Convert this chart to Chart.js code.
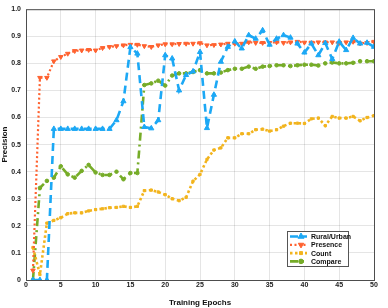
<!DOCTYPE html>
<html>
<head>
<meta charset="utf-8">
<script src="https://cdn.jsdelivr.net/npm/chart.js@4.4.0/dist/chart.umd.min.js"></script>
<style>
  body { margin: 0; background: #fff; }
  #wrap { width: 388px; height: 308px; }
</style>
</head>
<body>
<div id="wrap"><canvas id="myChart" width="388" height="308"></canvas></div>
<script>
var epochs = [...Array(50).keys()].map(function(i){ return i + 1; });

var ruralUrban = [0, 0, 0, 0.558, 0.558, 0.558, 0.558, 0.558, 0.558, 0.558,
    0.558, 0.558, 0.59, 0.66, 0.86, 0.836, 0.565, 0.56, 0.59, 0.83,
    0.818, 0.70, 0.757, 0.77, 0.842, 0.561, 0.684, 0.806, 0.861, 0.881,
    0.855, 0.904, 0.891, 0.922, 0.869, 0.891, 0.904, 0.895, 0.873, 0.84,
    0.873, 0.83, 0.875, 0.816, 0.88, 0.849, 0.894, 0.873, 0.876, 0.861];

var presence = [0.035, 0.747, 0.747, 0.808, 0.824, 0.836, 0.846, 0.848, 0.85, 0.848,
    0.857, 0.861, 0.864, 0.867, 0.869, 0.869, 0.864, 0.861, 0.867, 0.871,
    0.871, 0.872, 0.873, 0.873, 0.875, 0.867, 0.868, 0.87, 0.873, 0.873,
    0.873, 0.878, 0.876, 0.876, 0.876, 0.878, 0.876, 0.878, 0.88, 0.877,
    0.877, 0.878, 0.878, 0.878, 0.876, 0.878, 0.88, 0.874, 0.876, 0.88];

var count = [0.12, 0.02, 0.21, 0.22, 0.23, 0.245, 0.248, 0.248, 0.255, 0.26,
    0.263, 0.267, 0.268, 0.272, 0.268, 0.272, 0.33, 0.332, 0.325, 0.315,
    0.3, 0.293, 0.305, 0.365, 0.39, 0.445, 0.48, 0.488, 0.525, 0.525,
    0.54, 0.54, 0.555, 0.557, 0.55, 0.555, 0.568, 0.579, 0.579, 0.578,
    0.595, 0.598, 0.57, 0.604, 0.598, 0.598, 0.604, 0.588, 0.6, 0.607];

var compare = [0, 0.34, 0.366, 0.378, 0.42, 0.39, 0.378, 0.403, 0.425, 0.397,
    0.388, 0.388, 0.4, 0.372, 0.395, 0.395, 0.72, 0.726, 0.736, 0.718,
    0.755, 0.763, 0.763, 0.768, 0.775, 0.763, 0.763, 0.766, 0.775, 0.78,
    0.78, 0.788, 0.78, 0.788, 0.79, 0.793, 0.793, 0.79, 0.793, 0.795,
    0.795, 0.792, 0.8, 0.803, 0.8, 0.8, 0.802, 0.808, 0.808, 0.808];

var seriesNames = ['Rural/Urban', 'Presence', 'Count', 'Compare'];

function pts(arr){
    return arr.map(function(v, i){ return {x: epochs[i], y: v}; });
}

var FONT = "'Liberation Sans', Arial, sans-serif";

// frame around the plot + legend box inside the axes (MATLAB style)
var boxPlugin = {
    id: 'boxPlugin',
    afterDraw: function(chart){
        var ctx = chart.ctx, a = chart.chartArea;
        ctx.save();
        ctx.strokeStyle = '#4d4d4d';
        ctx.lineWidth = 1;
        ctx.strokeRect(a.left + 0.5, a.top + 0.5, a.right - a.left, a.bottom - a.top);

        // legend
        var w = 61, h = 35;
        var x0 = a.right - 26 - w, y0 = a.bottom - 14 - h;
        ctx.fillStyle = '#fff';
        ctx.fillRect(x0, y0, w, h);
        ctx.strokeStyle = '#555';
        ctx.strokeRect(x0 + 0.5, y0 + 0.5, w, h);
        chart.data.datasets.forEach(function(ds, i){
            var yy = y0 + 5.5 + i * 8.3;
            ctx.save();
            ctx.strokeStyle = ds.borderColor;
            ctx.lineWidth = ds.borderWidth;
            ctx.setLineDash(ds.borderDash || []);
            ctx.beginPath();
            ctx.moveTo(x0 + 3, yy);
            ctx.lineTo(x0 + 20, yy);
            ctx.stroke();
            ctx.restore();
            ctx.save();
            ctx.fillStyle = ds.borderColor;
            ctx.strokeStyle = ds.borderColor;
            ctx.lineWidth = 1;
            Chart.helpers.drawPoint(ctx, {
                pointStyle: ds.pointStyle,
                rotation: ds.pointRotation || 0,
                radius: ds.pointRadius + 0.5,
                borderWidth: 1
            }, x0 + 14, yy);
            ctx.restore();
            ctx.fillStyle = '#111';
            ctx.font = 'bold 7px ' + FONT;
            ctx.textBaseline = 'middle';
            ctx.fillText(ds.label, x0 + 24, yy + 0.5);
        });
        ctx.restore();
    }
};

var dataObj = {
    type: 'line',
    data: {
        datasets: [{
            label: seriesNames[0],
            data: pts(ruralUrban),
            borderColor: 'rgb(28,168,245)',
            backgroundColor: 'rgb(28,168,245)',
            borderWidth: 2.6,
            borderDash: [8, 5],
            pointStyle: 'triangle',
            pointRadius: 3,
            pointBorderWidth: 1
        }, {
            label: seriesNames[1],
            data: pts(presence),
            borderColor: 'rgb(255,98,48)',
            backgroundColor: 'rgb(255,98,48)',
            borderWidth: 2.2,
            borderDash: [2, 2.5],
            pointStyle: 'triangle',
            pointRotation: 180,
            pointRadius: 2.6,
            pointBorderWidth: 1
        }, {
            label: seriesNames[2],
            data: pts(count),
            borderColor: 'rgb(242,180,30)',
            backgroundColor: 'rgb(242,180,30)',
            borderWidth: 2.6,
            borderDash: [2.5, 2.5],
            pointStyle: 'rect',
            pointRadius: 1.6,
            pointBorderWidth: 1
        }, {
            label: seriesNames[3],
            data: pts(compare),
            borderColor: 'rgb(118,172,40)',
            backgroundColor: 'rgb(118,172,40)',
            borderWidth: 2.6,
            borderDash: [8, 4, 2, 4],
            pointStyle: 'circle',
            pointRadius: 1.8,
            pointBorderWidth: 1
        }]
    },
    options: {
        responsive: false,
        animation: false,
        layout: { padding: { top: 7, right: 14, left: 0, bottom: 0 } },
        plugins: {
            legend: { display: false },
            tooltip: { enabled: false }
        },
        elements: { line: { tension: 0, fill: false } },
        scales: {
            x: {
                type: 'linear',
                min: 0, max: 50,
                afterFit: function(s){ s.height = 28; },
                ticks: { stepSize: 5, color: '#222', padding: 1,
                    font: { family: FONT, size: 7, weight: 'bold' }, maxRotation: 0 },
                grid: { color: 'rgba(0,0,0,0.1)', drawTicks: false },
                border: { display: false },
                title: { display: true, text: 'Training Epochs', color: '#111', padding: { top: 2, bottom: 0 },
                    font: { family: FONT, size: 8, weight: 'bold' } }
            },
            y: {
                min: 0, max: 1,
                afterFit: function(s){ s.width = 26; },
                ticks: { stepSize: 0.1, color: '#222', padding: 5,
                    font: { family: FONT, size: 7, weight: 'bold' } },
                grid: { color: 'rgba(0,0,0,0.1)', drawTicks: false },
                border: { display: false },
                title: { display: true, text: 'Precision', color: '#111', padding: { top: 0, bottom: 2 },
                    font: { family: FONT, size: 8, weight: 'bold' } }
            }
        }
    },
    plugins: [boxPlugin]
};

var ctx = document.getElementById('myChart').getContext('2d');
window.myLine = new Chart(ctx, dataObj);
</script>
</body>
</html>
